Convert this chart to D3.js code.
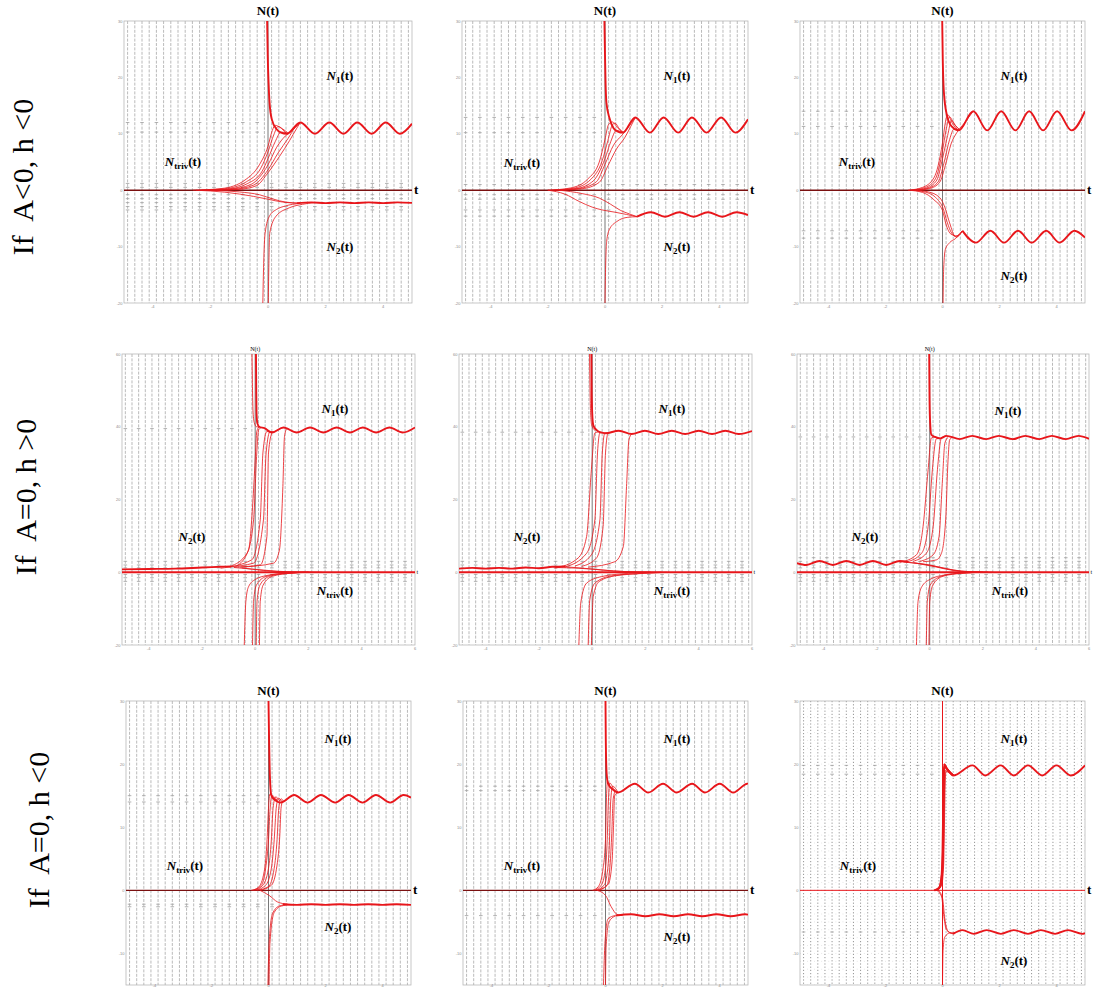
<!DOCTYPE html>
<html><head><meta charset="utf-8">
<script src="https://cdn.jsdelivr.net/npm/d3@7"></script>
<style>body{margin:0;background:#fff}</style>
</head><body>
<svg id="fig" width="1093" height="988"></svg>
<script>
// ---------- row captions ----------
const rowLabels = ["If  A<0, h <0", "If  A=0, h >0", "If  A=0, h <0"];

// ---------- tick values per row ----------
const tTicksRow1 = [-4, -2, 0, 2, 4];
const nTicksRow1 = [-20, -10, 0, 10, 20, 30];
const tTicksRow2 = [-4, -2, 0, 2, 4, 6];
const nTicksRow2 = [-20, 0, 20, 40, 60];
const tTicksRow3 = [-4, -2, 0, 2, 4];
const nTicksRow3 = [-10, 0, 10, 20, 30];

// ---------- solution curves, [t, N] ----------
// Panel 1 : A<0, h<0
const p1Bold = [
  [[-0.03,30],[-0.01,24],[0.02,19],[0.05,15.8],[0.13,12.6],[0.3,10.8],[0.45,10.2],[0.65,10],[1.12,12],[1.63,10],[2.13,12],[2.62,10],[3.1,12],[3.6,10],[4.09,12],[4.58,10],[5,11.8]],
  [[1.0,-2.3],[1.5,-2.15],[2,-2.3],[2.5,-2.15],[3,-2.3],[3.5,-2.15],[4,-2.3],[4.5,-2.15],[5,-2.25]]
];
const p1Thin = [
  [[-2.6,0],[-1.6,0.3],[-0.8,1.8],[-0.3,4.5],[0,7.8],[0.15,10.6],[0.25,11.5],[0.4,11.2],[0.65,10]],
  [[-2.4,0],[-1.5,0.25],[-0.75,1.5],[-0.25,3.9],[0,6.8],[0.2,9.8],[0.35,11.3],[0.5,10.9],[0.7,10.1]],
  [[-2.3,0],[-1.4,0.2],[-0.7,1.2],[-0.2,3.4],[0,5.6],[0.25,8.6],[0.45,10.3],[0.65,10.2]],
  [[-2.2,0],[-1.3,0.2],[-0.6,1.0],[0,4.5],[0.3,7.6],[0.6,9.6],[0.8,10.4],[1.12,12]],
  [[-2.0,0],[-1.2,0.15],[-0.5,0.9],[0,3.6],[0.35,6.6],[0.7,9.2],[0.95,11.2],[1.12,12]],
  [[-1.8,0],[-1,0.15],[-0.4,0.8],[0,3.1],[0.4,6.0],[0.75,8.8],[1.0,11],[1.12,12]],
  [[-2.5,0],[-1.5,-0.35],[-0.5,-1.1],[0,-1.6],[0.5,-2.1],[1.0,-2.3]],
  [[-2.0,0],[-1,-0.3],[-0.3,-0.8],[0.2,-1.6],[0.6,-2.1],[1.1,-2.3]],
  [[-0.18,-20],[-0.15,-13],[-0.1,-7.6],[0.05,-4.6],[0.3,-3.4],[0.6,-2.8],[1.1,-2.35]],
  [[0.01,-20],[0.03,-13],[0.06,-7.6],[0.28,-4.6],[0.75,-3.1],[1.2,-2.5],[1.6,-2.2]]
];
// flat slope rows: [N, t from, t to]
const p1Rows = [[12,-5,0],[10.3,-5,0],[1.2,-5,5],[0.5,-5,5],[-0.8,-5,5],[-1.5,-5,5],[-2.2,-5,5],[-2.9,-5,5],[-3.5,-5,5]];

// Panel 2 : A<0, h<0
const p2Bold = [
  [[-0.02,30],[0.0,24],[0.02,19],[0.05,15.5],[0.15,12.9],[0.3,11],[0.45,10.4],[0.62,10.2],[1.06,12.9],[1.57,10.2],[2.05,12.9],[2.56,10.2],[3.04,12.9],[3.55,10.2],[4.06,12.9],[4.56,10.2],[5,12.6]],
  [[1.12,-4.7],[1.6,-3.9],[2.1,-4.7],[2.6,-3.9],[3.1,-4.7],[3.6,-3.9],[4.1,-4.7],[4.6,-3.9],[5,-4.4]]
];
const p2Thin = [
  [[-2.0,0],[-1.2,0.4],[-0.6,2],[-0.2,5],[0,9],[0.12,11.6],[0.25,12.1],[0.45,11],[0.62,10.2]],
  [[-1.9,0],[-1.1,0.35],[-0.5,1.9],[-0.1,5.2],[0.1,8.8],[0.25,11.5],[0.35,11.9],[0.5,10.9],[0.65,10.3]],
  [[-1.8,0],[-1.0,0.3],[-0.4,1.7],[0,5.6],[0.2,8.6],[0.4,10.6],[0.62,10.2]],
  [[-1.7,0],[-0.9,0.3],[-0.3,1.5],[0,4.6],[0.3,8],[0.6,9.8],[0.85,11.4],[1.06,12.9]],
  [[-1.6,0],[-0.8,0.25],[-0.2,1.4],[0.1,4.3],[0.4,7.3],[0.7,9.4],[0.9,11.3],[1.06,12.9]],
  [[-2.0,0],[-1.4,-0.7],[-0.9,-2.0],[-0.45,-3.0],[-0.1,-3.5],[0.35,-3.9],[0.75,-4.3],[1.12,-4.7]],
  [[-1.6,0],[-0.8,-0.6],[-0.2,-1.4],[0.2,-2.5],[0.55,-3.6],[0.85,-4.2],[1.12,-4.7]],
  [[0.0,-20],[0.02,-14],[0.06,-9],[0.15,-7],[0.4,-5.6],[0.8,-4.8],[1.12,-4.7]]
];
const p2Rows = [[12.9,-5,0],[10.2,-5,0],[1.0,-5,5],[-0.8,-5,5],[-1.6,-5,5],[-3.5,-5,0.5],[-4.6,-5,0.5]];

// Panel 3 : A<0, h<0
const p3Bold = [
  [[-0.01,30],[0.01,23],[0.05,17.3],[0.15,13.4],[0.32,11.3],[0.57,10.6],[1.08,14],[1.57,10.6],[2.06,14],[2.56,10.6],[3.04,14],[3.53,10.6],[4.02,14],[4.53,10.6],[5,14]],
  [[0.7,-7.2],[1.17,-9.3],[1.68,-7.2],[2.16,-9.3],[2.65,-7.2],[3.13,-9.3],[3.64,-7.2],[4.11,-9.3],[4.63,-7.2],[5,-8.4]]
];
const p3Thin = [
  [[-1.2,0],[-0.7,0.5],[-0.3,2.2],[0,8.4],[0.1,12],[0.18,13.4],[0.35,11.8],[0.57,10.6]],
  [[-1.1,0],[-0.6,0.5],[-0.25,2],[0,7],[0.12,10.5],[0.25,13],[0.4,11.8],[0.6,10.7]],
  [[-1.0,0],[-0.55,0.4],[-0.2,1.8],[0,5.6],[0.18,9.7],[0.32,12.4],[0.45,11.5],[0.6,10.7]],
  [[-0.95,0],[-0.5,0.35],[-0.15,1.5],[0.05,4.8],[0.25,9],[0.4,10.8],[0.6,10.7]],
  [[-0.9,0],[-0.45,0.3],[-0.1,1.4],[0.1,4.4],[0.3,8.2],[0.5,10.2],[0.75,11.8],[1.08,14]],
  [[-1.2,0],[-0.7,-0.4],[-0.3,-1.7],[0,-3.6],[0.12,-6],[0.3,-7.8],[0.5,-8.1],[0.7,-7.2]],
  [[-1.1,0],[-0.6,-0.35],[-0.2,-1.5],[0.02,-3.2],[0.16,-5.6],[0.32,-7.6],[0.5,-8.3],[0.7,-7.2]],
  [[-1.0,0],[-0.5,-0.3],[-0.1,-1.3],[0.08,-3],[0.25,-5.8],[0.45,-8.2],[0.7,-7.2]],
  [[0.02,-20],[0.04,-14],[0.1,-10.5],[0.25,-9.3],[0.45,-8.6],[0.7,-7.2]]
];
const p3Rows = [[14,-5,0],[11.3,-5,0],[-7.2,-5,0],[-8.5,-5,0]];

// Panel 4 : A=0, h>0
const p4Bold = [
  [[0.03,60],[0.04,50],[0.05,44],[0.08,41],[0.15,40],[0.35,39.6],[0.63,38.4],[1.06,39.8],[1.56,38.4],[2.06,39.8],[2.56,38.4],[3.06,39.8],[3.56,38.4],[4.04,39.8],[4.54,38.4],[5.04,39.8],[5.54,38.4],[6,39.8]],
  [[-5,0.8],[-4,0.9],[-3,1.0],[-2,1.3],[-1.3,1.5],[-0.9,1.6]]
];
const p4Thin = [
  [[-0.12,60],[-0.1,50],[-0.08,44],[-0.03,41],[0.05,40],[0.15,39.9]],
  [[-0.7,1.7],[-0.25,6.1],[-0.09,19],[0,30.9],[0.06,38.7],[0.15,40]],
  [[-0.94,1.6],[-0.31,5.2],[-0.06,14.4],[0.06,32.8],[0.13,39.2],[0.25,39.8]],
  [[-1.3,1.1],[-0.13,3.4],[0.19,14.4],[0.29,32.8],[0.44,38.7],[0.63,38.4]],
  [[-1.0,1.5],[-0.06,2.5],[0.31,14.4],[0.41,32.8],[0.56,38.7],[0.7,38.6]],
  [[-0.8,1.4],[0.19,2.0],[0.44,9.8],[0.5,32.8],[0.63,38.4]],
  [[-0.56,1.4],[0.69,2.5],[0.91,6.1],[1.04,23.6],[1.1,37.3],[1.19,39.6]],
  [[-0.8,1.3],[0,0.8],[0.8,0.3],[1.6,0.05],[2.5,0]],
  [[-0.5,1.2],[0.3,0.5],[1.2,0.1],[2,0]],
  [[-0.41,-20],[-0.35,-8],[-0.25,-4],[0,-2],[0.5,-0.8],[1.2,-0.25],[2,0]],
  [[-0.1,-20],[-0.06,-8],[0.05,-3.5],[0.4,-1.2],[1.0,-0.35],[1.9,0]],
  [[0.04,-20],[0.07,-8],[0.18,-3.5],[0.55,-1.1],[1.2,-0.3],[2.0,0]],
  [[0.16,-20],[0.19,-8],[0.3,-3.5],[0.65,-1.1],[1.3,-0.3],[2.1,0]]
];
const p4Rows = [[39.5,-5,0],[3,-5,6],[2,-5,6],[1.2,-5,6],[-0.6,-5,6],[-1.5,-5,6],[-2.5,-5,6]];

// Panel 5 : A=0, h>0
const p5Bold = [
  [[-0.03,60],[-0.02,50],[0,44],[0.04,40.5],[0.15,39.2],[0.3,38.5],[0.5,38.2],[1.0,38.9],[1.48,38.0],[1.98,38.9],[2.48,38.0],[2.99,38.9],[3.49,38.0],[4.0,38.9],[4.5,38.0],[5.0,38.9],[5.5,38.0],[6.0,38.8]],
  [[-5,1.0],[-4.5,1.2],[-4,1.0],[-3.5,1.2],[-3,1.0],[-2.5,1.3],[-2,1.1],[-1.5,1.5],[-1,1.6]]
];
const p5Thin = [
  [[-0.1,60],[-0.08,50],[-0.06,44],[-0.02,40.5],[0.1,39]],
  [[-1.41,1.1],[-0.53,3.9],[-0.21,9.8],[-0.03,28.2],[0.1,38.3],[0.25,38.6]],
  [[-1.03,1.4],[-0.21,5.2],[0.1,14.4],[0.2,32.8],[0.29,38.3],[0.4,38.4]],
  [[-0.65,1.7],[-0.03,4.8],[0.29,14.4],[0.38,32.8],[0.48,38.3],[0.6,38.3]],
  [[-0.4,1.6],[0.16,3.9],[0.41,12.6],[0.5,32.8],[0.6,38.3],[0.7,38.4]],
  [[-0.15,1.4],[0.85,2.9],[1.17,7.1],[1.29,23.6],[1.38,36.4],[1.48,38.0]],
  [[-1.4,1.3],[-0.5,1.1],[0.4,0.6],[1.2,0.2],[2.2,0]],
  [[-1,1.5],[0,0.9],[0.8,0.35],[1.8,0.05],[2.6,0]],
  [[-0.5,-20],[-0.43,-8.5],[-0.21,-3.0],[0.35,-1.2],[1.36,-0.3],[2.2,0]],
  [[-0.15,-20],[-0.09,-7.6],[0.1,-3],[0.73,-1],[1.86,-0.3],[2.6,0]],
  [[-0.03,-20],[0.04,-6.7],[0.25,-2.6],[0.85,-1],[1.98,-0.3],[2.8,0]]
];
const p5Rows = [[38.5,-5,0],[3,-5,6],[2,-5,6],[1.2,-5,6],[-0.6,-5,6],[-1.5,-5,6],[-2.5,-5,6]];

// Panel 6 : A=0, h>0
const p6Bold = [
  [[-0.02,60],[-0.01,50],[0.01,42],[0.06,37.8],[0.2,37.2],[0.4,36.8],[0.63,37.5],[1.13,36.6],[1.6,37.5],[2.13,36.6],[2.6,37.5],[3.13,36.6],[3.6,37.5],[4.13,36.6],[4.6,37.5],[5.13,36.6],[5.6,37.5],[6,36.7]],
  [[-5,2.5],[-4.65,2.0],[-4.15,3.1],[-3.65,2.0],[-3.14,3.1],[-2.64,2.0],[-2.14,3.1],[-1.64,2.0],[-1.13,3.1],[-0.8,2.8]]
];
const p6Thin = [
  [[-1.13,2.7],[-0.5,4.8],[-0.25,12.6],[-0.06,28.2],[0.06,36.9],[0.2,37.2]],
  [[-0.88,2.8],[-0.31,5.2],[-0.06,12.6],[0.1,28.2],[0.25,36.7],[0.4,36.8]],
  [[-0.63,3.0],[-0.13,5.2],[0.13,12.6],[0.29,28.2],[0.44,36.9],[0.63,37.5]],
  [[-0.38,3.0],[0.13,4.8],[0.35,9.8],[0.48,25.4],[0.57,35.5],[0.69,37.1]],
  [[-0.25,2.9],[0.25,3.4],[0.44,5.2],[0.6,14.4],[0.69,30.9],[0.75,36.4],[0.88,37.2]],
  [[-1.0,2.8],[-0.3,2.3],[0.3,1.5],[0.9,0.6],[1.5,0.15],[2.2,0]],
  [[-0.8,2.7],[0,2.0],[0.6,1.0],[1.2,0.3],[2.0,0]],
  [[-0.6,2.6],[0.2,1.5],[0.8,0.6],[1.4,0.1],[2.4,0]],
  [[-0.5,-20],[-0.44,-8],[-0.3,-4],[0,-2],[0.6,-0.7],[1.4,-0.15],[2.2,0]],
  [[-0.13,-20],[-0.09,-8],[0.02,-3.5],[0.4,-1.2],[1.0,-0.35],[1.9,0]],
  [[-0.03,-20],[0.0,-8],[0.12,-3.5],[0.5,-1.1],[1.2,-0.3],[2.0,0]]
];
const p6Rows = [[37.2,-5,0],[4,-5,6],[3,-5,6],[2,-5,6],[1.2,-5,6],[-0.6,-5,6],[-1.5,-5,6],[-2.5,-5,6]];

// Panel 7 : A=0, h<0
const p7Bold = [
  [[0.0,30],[0.02,24],[0.05,17.9],[0.1,15],[0.26,14.2],[0.43,13.9],[0.9,15.1],[1.37,13.9],[1.84,15.1],[2.34,13.9],[2.81,15.1],[3.3,13.9],[3.77,15.1],[4.27,13.9],[4.74,15.1],[5,14.7]],
  [[0.5,-2.2],[1,-2.3],[1.5,-2.2],[2,-2.3],[2.5,-2.2],[3,-2.3],[3.5,-2.2],[4,-2.3],[4.5,-2.2],[5,-2.3]]
];
const p7Thin = [
  [[-0.6,0],[-0.35,0.5],[-0.15,3],[-0.05,8],[0.0,13],[0.05,15.3],[0.15,14.8],[0.3,14.2]],
  [[-0.55,0],[-0.25,0.8],[-0.1,3.5],[0.0,8],[0.05,12.5],[0.12,15],[0.3,14.3]],
  [[-0.5,0],[-0.2,0.8],[0,3.5],[0.1,8],[0.16,13],[0.25,14.8],[0.4,14.1]],
  [[-0.45,0],[-0.1,0.8],[0.1,3.5],[0.2,8],[0.27,13],[0.35,14.6],[0.48,14.0]],
  [[-0.4,0],[0.0,0.6],[0.2,3.5],[0.3,8],[0.36,13],[0.44,14.5],[0.55,14.0]],
  [[-0.3,0],[0.1,0.8],[0.3,4],[0.4,9],[0.44,13],[0.5,14.2]],
  [[-0.3,0],[0.02,-0.8],[0.32,-1.85],[0.67,-2.2]],
  [[-0.02,-15],[0.02,-8.4],[0.14,-3.7],[0.37,-2.5],[0.67,-2.25]],
  [[0.02,-15],[0.05,-8.4],[0.2,-3.5],[0.45,-2.5],[0.8,-2.25]]
];
const p7Rows = [[15,-5,0],[14,-5,0],[-2.2,-5,0.3],[-2.6,-5,0.3]];

// Panel 8 : A=0, h<0
const p8Bold = [
  [[0,30],[0.01,24],[0.04,18.5],[0.09,16.9],[0.25,16.0],[0.44,15.5],[1.03,16.9],[1.5,15.5],[2.02,16.9],[2.5,15.5],[3.04,16.9],[3.49,15.5],[4.01,16.9],[4.48,15.5],[4.98,16.9],[5,16.85]],
  [[0.35,-4.0],[0.9,-3.8],[1.4,-4.1],[1.9,-3.8],[2.4,-4.1],[2.9,-3.8],[3.4,-4.1],[3.9,-3.8],[4.4,-4.1],[4.9,-3.8],[5,-3.85]]
];
const p8Thin = [
  [[-0.45,0],[-0.25,0.6],[-0.1,3],[0.0,8],[0.03,14],[0.07,17.3],[0.15,16.5],[0.3,15.8],[0.44,15.5]],
  [[-0.4,0],[-0.15,0.8],[0.0,3.5],[0.06,8],[0.1,14],[0.15,17],[0.3,16],[0.44,15.5]],
  [[-0.35,0],[-0.05,0.8],[0.08,3.5],[0.14,8],[0.18,14],[0.25,16.5],[0.44,15.5]],
  [[-0.3,0],[0.05,0.8],[0.16,4],[0.22,9],[0.27,14.5],[0.35,15.7],[0.44,15.5]],
  [[-0.25,0],[0.1,1],[0.23,4.5],[0.28,10],[0.32,15],[0.44,15.5]],
  [[-0.3,0],[0,-0.8],[0.2,-2.6],[0.4,-3.8],[0.6,-4.0]],
  [[-0.07,-15],[-0.02,-8.4],[0.09,-4.5],[0.33,-4.0]],
  [[0.0,-15],[0.02,-9],[0.12,-5],[0.35,-4.05]]
];
const p8Rows = [[16.5,-5,0],[15.8,-5,0],[-4.0,-5,0]];

// Panel 9 : A=0, h<0
const p9Bold = [
  [[0.06,20],[0.2,19.0],[0.37,18.2],[1.05,19.8],[1.5,18.2],[2.04,19.8],[2.5,18.2],[3.0,19.8],[3.5,18.2],[4.0,19.8],[4.5,18.2],[5.0,19.8]],
  [[0.37,-6.9],[0.7,-6.3],[1.1,-6.9],[1.55,-6.3],[2.05,-6.9],[2.5,-6.3],[3.0,-6.9],[3.45,-6.3],[3.95,-6.9],[4.4,-6.3],[4.9,-6.9],[5,-6.8]],
  [[-0.3,0],[-0.12,0.4],[-0.04,2],[0,6],[0.02,12],[0.04,18],[0.06,20],[0.15,19.3],[0.37,18.2]],
  [[-0.26,0],[-0.1,0.5],[-0.02,2.5],[0.02,7],[0.04,13],[0.05,18],[0.07,19.6],[0.2,19],[0.37,18.2]]
];
const p9Thin = [
  [[-0.22,0],[-0.08,0.6],[0.0,3],[0.03,10],[0.05,17],[0.08,19.6],[0.2,19],[0.4,18.3]],
  [[-0.2,0],[-0.05,0.7],[0.02,3.5],[0.05,10],[0.07,16],[0.1,19],[0.25,18.6],[0.4,18.3]],
  [[-0.18,0],[-0.03,0.8],[0.04,4],[0.07,11],[0.09,16],[0.12,18.8],[0.4,18.2]],
  [[-0.2,0],[-0.03,-1.05],[0.05,-4.2],[0.14,-6.3],[0.37,-6.9]],
  [[-0.15,0],[0.0,-1.2],[0.08,-4.5],[0.2,-6.5],[0.4,-6.9]],
  [[0,-15],[0.02,-9.5],[0.08,-7.4],[0.26,-6.75],[0.45,-6.7]]
];
const p9Rows = [[19.8,-5,0],[18.4,-5,0],[-6.6,-5,0]];

// ---------- layout ----------
const W = 1093, H = 988;
const svg = d3.select("#fig");
const RED = "#e8161b";

const rowGeom = [
  {y0: 21, y1: 303, nDom: [-20, 30], tDom: [-5, 5], tTicks: tTicksRow1, nTicks: nTicksRow1, bigTitles: true},
  {y0: 354, y1: 645, nDom: [-20, 60], tDom: [-5, 6], tTicks: tTicksRow2, nTicks: nTicksRow2, bigTitles: false},
  {y0: 701, y1: 985, nDom: [-15, 30], tDom: [-5, 5], tTicks: tTicksRow3, nTicks: nTicksRow3, bigTitles: true}
];

const panels = [
  {row: 0, x0: 124, x1: 412, bold: p1Bold, thin: p1Thin, rows: p1Rows,
   lab: {n1: [340, 80], n2: [340, 251], triv: [183, 166]}},
  {row: 0, x0: 462, x1: 748, bold: p2Bold, thin: p2Thin, rows: p2Rows,
   lab: {n1: [677, 80], n2: [677, 251], triv: [522, 167]}},
  {row: 0, x0: 800, x1: 1085, bold: p3Bold, thin: p3Thin, rows: p3Rows,
   lab: {n1: [1014, 80], n2: [1014, 280], triv: [857, 166]}},
  {row: 1, x0: 122, x1: 415, bold: p4Bold, thin: p4Thin, rows: p4Rows, trivBold: true,
   lab: {n1: [335, 413], n2: [192, 541], triv: [335, 595]}},
  {row: 1, x0: 459, x1: 752, bold: p5Bold, thin: p5Thin, rows: p5Rows, trivBold: true,
   lab: {n1: [672, 413], n2: [527, 541], triv: [672, 595]}},
  {row: 1, x0: 797, x1: 1089, bold: p6Bold, thin: p6Thin, rows: p6Rows, trivBold: true,
   lab: {n1: [1008, 415], n2: [865, 541], triv: [1010, 595]}},
  {row: 2, x0: 126, x1: 411, bold: p7Bold, thin: p7Thin, rows: p7Rows,
   lab: {n1: [338, 743], n2: [338, 931], triv: [185, 870]}},
  {row: 2, x0: 463, x1: 748, bold: p8Bold, thin: p8Thin, rows: p8Rows,
   lab: {n1: [677, 743], n2: [677, 941], triv: [522, 870]}},
  {row: 2, x0: 800, x1: 1085, bold: p9Bold, thin: p9Thin, rows: p9Rows, dotted: true,
   lab: {n1: [1014, 743], n2: [1014, 965], triv: [858, 870]}}
];

const defs = svg.append("defs");
const serif = "Liberation Serif, Times New Roman, serif";

panels.forEach((p, i) => {
  const g = rowGeom[p.row];
  const x = d3.scaleLinear().domain(g.tDom).range([p.x0, p.x1]);
  const y = d3.scaleLinear().domain(g.nDom).range([g.y1, g.y0]);
  const G = svg.append("g");

  defs.append("clipPath").attr("id", "clip" + i)
    .append("rect").attr("x", p.x0).attr("y", g.y0)
    .attr("width", p.x1 - p.x0).attr("height", g.y1 - g.y0);

  // slope field: columns of short strokes every quarter unit of t
  const cols = d3.range(g.tDom[0] + 0.125, g.tDom[1], 0.25);
  const field = G.append("g").attr("clip-path", `url(#clip${i})`);
  field.selectAll("line.col").data(cols).join("line")
    .attr("x1", d => x(d)).attr("x2", d => x(d))
    .attr("y1", g.y0).attr("y2", g.y1)
    .attr("stroke", p.dotted ? "#8a8a8a" : "#a8a8a8")
    .attr("stroke-width", p.dotted ? 0.9 : 0.8)
    .attr("stroke-dasharray", p.dotted ? "1.2,2" : "3,1.4");
  if (p.dotted) {
    const rowsN = d3.range(g.nDom[0], g.nDom[1] + 0.01, 1.25);
    field.selectAll("line.rowdot").data(rowsN).join("line")
      .attr("x1", p.x0).attr("x2", p.x1)
      .attr("y1", d => y(d)).attr("y2", d => y(d))
      .attr("stroke", "#c4c4c4").attr("stroke-width", 0.5)
      .attr("stroke-dasharray", "0.8,6.3");
  }
  // flat slope marks along the equilibrium bands
  const flat = [];
  p.rows.forEach(r => cols.forEach((t, k) => {
    if (t >= r[1] && t <= r[2] && k % 2 === 0) flat.push([t, r[0]]);
  }));
  field.selectAll("line.flat").data(flat).join("line")
    .attr("x1", d => x(d[0]) - 1.8).attr("x2", d => x(d[0]) + 1.8)
    .attr("y1", d => y(d[1])).attr("y2", d => y(d[1]))
    .attr("stroke", "#a0a0a0").attr("stroke-width", 0.8);

  // frame
  G.append("rect").attr("x", p.x0).attr("y", g.y0)
    .attr("width", p.x1 - p.x0).attr("height", g.y1 - g.y0)
    .attr("fill", "none").attr("stroke", "#b8b8b8").attr("stroke-width", 0.8);

  // tiny tick labels
  G.selectAll("text.tt").data(g.tTicks).join("text")
    .attr("x", d => x(d)).attr("y", Math.min(g.y1 + 5, H - 1))
    .attr("text-anchor", "middle").attr("font-size", 4)
    .attr("font-family", "Liberation Sans, sans-serif").attr("fill", "#8a8a8a")
    .text(d => d);
  G.selectAll("text.nt").data(g.nTicks).join("text")
    .attr("x", p.x0 - 1.5).attr("y", d => y(d) + 1.5)
    .attr("text-anchor", "end").attr("font-size", 4)
    .attr("font-family", "Liberation Sans, sans-serif").attr("fill", "#8a8a8a")
    .text(d => d);

  // vertical axis t = 0
  G.append("line").attr("x1", x(0)).attr("x2", x(0)).attr("y1", g.y0).attr("y2", g.y1)
    .attr("stroke", p.dotted ? RED : "#555").attr("stroke-width", p.dotted ? 1 : 0.8);

  const curves = G.append("g").attr("clip-path", `url(#clip${i})`).attr("fill", "none");
  const line = d3.line().x(d => x(d[0])).y(d => y(d[1])).curve(d3.curveMonotoneX);

  // trivial solution N = 0
  curves.append("path").datum([[g.tDom[0], 0], [g.tDom[1], 0]])
    .attr("d", line).attr("stroke", p.dotted ? RED : (p.trivBold ? RED : "#7a1010"))
    .attr("stroke-width", p.dotted ? 1 : (p.trivBold ? 1.8 : 1.4));

  curves.selectAll("path.thin").data(p.thin).join("path")
    .attr("d", line).attr("stroke", RED).attr("stroke-width", 0.9).attr("stroke-opacity", 0.9);
  curves.selectAll("path.bold").data(p.bold).join("path")
    .attr("d", line).attr("stroke", RED).attr("stroke-width", 1.9);

  // axis titles
  if (g.bigTitles) {
    G.append("text").attr("x", x(0)).attr("y", g.y0 - 6).attr("text-anchor", "middle")
      .attr("font-family", serif).attr("font-weight", "bold").attr("font-size", 13).text("N(t)");
    G.append("text").attr("x", p.x1 + 2).attr("y", y(0) + 4)
      .attr("font-family", serif).attr("font-weight", "bold").attr("font-size", 13).text("t");
  } else {
    G.append("text").attr("x", x(0)).attr("y", g.y0 - 3).attr("text-anchor", "middle")
      .attr("font-family", serif).attr("font-size", 6).text("N(t)");
    G.append("text").attr("x", p.x1 + 1.5).attr("y", y(0) + 2)
      .attr("font-family", serif).attr("font-size", 6).text("t");
  }

  // region labels
  const addLab = (pos, sub) => {
    const t = G.append("text").attr("x", pos[0]).attr("y", pos[1]).attr("text-anchor", "middle")
      .attr("font-family", serif).attr("font-weight", "bold").attr("font-size", 13);
    t.append("tspan").attr("font-style", "italic").text("N");
    t.append("tspan").attr("font-size", 9).attr("dy", 3).text(sub);
    t.append("tspan").attr("dy", -3).text("(t)");
  };
  addLab(p.lab.n1, "1");
  addLab(p.lab.n2, "2");
  addLab(p.lab.triv, "triv");
});

// row captions
const capPos = [[33, 177], [36, 497], [49, 830]];
rowLabels.forEach((s, i) => {
  svg.append("text")
    .attr("transform", `translate(${capPos[i][0]},${capPos[i][1]}) rotate(-90)`)
    .attr("text-anchor", "middle")
    .attr("font-family", serif)
    .attr("font-size", 30).style("white-space", "pre")
    .text(s);
});
</script>
</body></html>
